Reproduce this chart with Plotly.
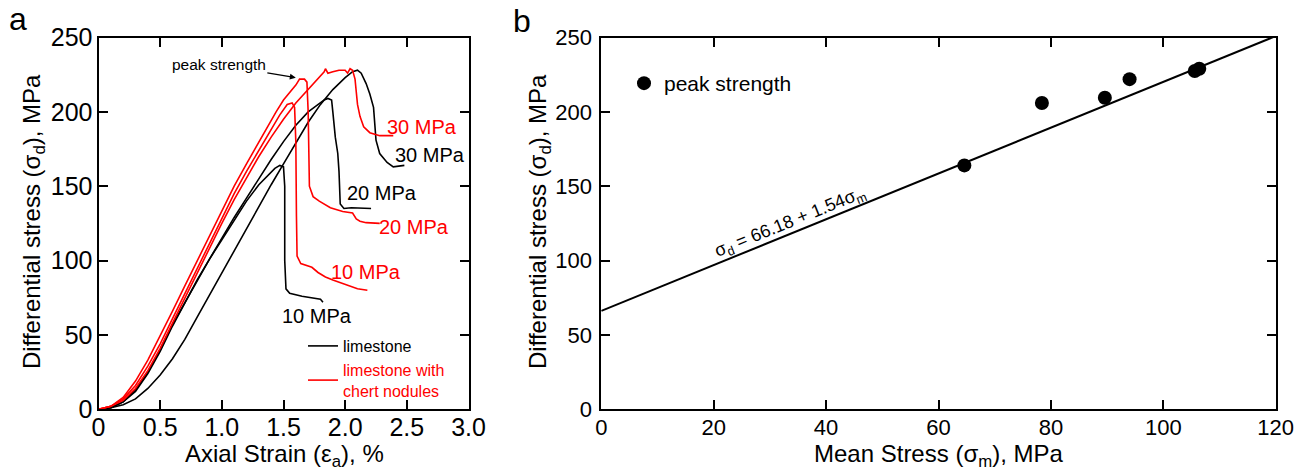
import plotly.graph_objects as go

# panel a: stress-strain curves (axial strain %, differential stress MPa)
lime10_x = [0, 0.1, 0.2, 0.3, 0.4, 0.5, 0.6, 0.7, 0.8, 0.9, 1.0, 1.1, 1.2, 1.3, 1.38, 1.43, 1.47, 1.50,
            1.51, 1.51, 1.52, 1.55, 1.65, 1.75, 1.80, 1.82]
lime10_y = [0, 1, 5, 13, 25, 40, 57, 72, 87, 101, 114, 127, 140, 151, 158, 162, 164, 163,
            150, 100, 81, 78, 76, 75, 74, 72]
lime20_x = [0, 0.1, 0.2, 0.3, 0.4, 0.5, 0.6, 0.7, 0.8, 0.9, 1.0, 1.1, 1.2, 1.3, 1.4, 1.5, 1.6, 1.7, 1.78,
            1.83, 1.86, 1.89, 1.90, 1.92, 1.94, 1.95, 1.96, 1.99, 2.05, 2.21]
lime20_y = [0, 1, 5, 12, 24, 39, 56, 72, 87, 101, 115, 129, 142, 155, 168, 180, 191, 200, 205,
            208, 209, 208, 200, 183, 172, 160, 138, 135, 135.5, 135]
lime30_x = [0, 0.1, 0.2, 0.3, 0.4, 0.5, 0.6, 0.7, 0.8, 0.9, 1.0, 1.1, 1.2, 1.3, 1.4, 1.5, 1.6, 1.7, 1.8,
            1.9, 2.0, 2.06, 2.1, 2.13, 2.17, 2.2, 2.23, 2.25, 2.28, 2.34, 2.39, 2.48]
lime30_y = [0, 1, 3, 7, 14, 23, 34, 47, 62, 77, 92, 107, 122, 137, 151, 165, 179, 193, 205,
            215, 223, 227, 228, 226, 219, 212, 203, 181, 172, 166, 163, 164]

chert10_x = [0, 0.1, 0.2, 0.3, 0.4, 0.5, 0.6, 0.7, 0.8, 0.9, 1.0, 1.1, 1.2, 1.3, 1.4, 1.47, 1.53, 1.57,
             1.59, 1.60, 1.605, 1.61, 1.64, 1.68, 1.73, 1.78, 1.84, 1.9, 2.0, 2.1, 2.18]
chert10_y = [0, 2, 7, 16, 29, 44, 61, 78, 95, 112, 129, 145, 160, 174, 188, 198, 205, 206,
             203, 180, 130, 103, 98, 97, 95.5, 92, 89, 87, 84, 81, 80]
chert20_x = [0, 0.1, 0.2, 0.3, 0.4, 0.5, 0.6, 0.7, 0.8, 0.9, 1.0, 1.1, 1.2, 1.3, 1.37, 1.44, 1.5, 1.56,
             1.6, 1.63, 1.67, 1.69, 1.70, 1.71, 1.74, 1.79, 1.88, 1.98, 2.06, 2.09, 2.12, 2.17, 2.28]
chert20_y = [0, 2, 8, 19, 33, 49, 66, 83, 100, 117, 134, 150, 165, 180, 190, 200, 208, 214,
             218, 222, 222, 220, 200, 150, 143, 140, 135.5, 133, 132, 128, 126.5, 125.5, 125]
chert30_x = [0, 0.1, 0.2, 0.3, 0.4, 0.5, 0.6, 0.7, 0.8, 0.9, 1.0, 1.1, 1.2, 1.3, 1.4, 1.5, 1.6, 1.7, 1.78,
             1.83, 1.84, 1.86, 1.9, 1.95, 2.0, 2.02, 2.04, 2.06, 2.08, 2.1, 2.12, 2.15, 2.2, 2.28, 2.39]
chert30_y = [0, 2, 6, 14, 26, 41, 58, 75, 92, 109, 125, 141, 156, 170, 183, 195, 206, 215, 222,
             227, 229, 226, 227, 228, 228, 226, 229, 228, 222, 205, 197, 190, 186, 184, 184]

# curve labels: (text, x, y, colour)
curve_labels = [
    ("30 MPa", 2.62, 190, "red"),
    ("30 MPa", 2.69, 171, "black"),
    ("20 MPa", 2.30, 145.5, "black"),
    ("20 MPa", 2.56, 122.5, "red"),
    ("10 MPa", 2.17, 92.5, "red"),
    ("10 MPa", 1.77, 62.5, "black"),
]

# panel b: peak strength vs mean stress
mean_stress = [64.6, 78.4, 89.6, 94.0, 105.6, 106.4]
peak_strength = [164, 206, 209.5, 222, 227.5, 229]
fit_intercept = 66.18
fit_slope = 1.54
fit_x = [0, 120]
fit_y = [fit_intercept + fit_slope * v for v in fit_x]

W, H = 1310, 475
FONT = "Liberation Sans, Arial, sans-serif"
RED = "#ff0000"


def px(x):
    return x / W


def py(y):
    return 1 - y / H


fig = go.Figure()

black_curves = [(lime10_x, lime10_y), (lime20_x, lime20_y), (lime30_x, lime30_y)]
red_curves = [(chert10_x, chert10_y), (chert20_x, chert20_y), (chert30_x, chert30_y)]
for i, (xs, ys) in enumerate(black_curves):
    fig.add_trace(go.Scatter(x=xs, y=ys, mode="lines", line=dict(color="black", width=1.6),
                             name="limestone", legendgroup="lime", showlegend=(i == 0),
                             xaxis="x", yaxis="y"))
for i, (xs, ys) in enumerate(red_curves):
    fig.add_trace(go.Scatter(x=xs, y=ys, mode="lines", line=dict(color=RED, width=1.6),
                             name='<span style="color:#ff0000">limestone with<br>chert nodules</span>',
                             legendgroup="chert", showlegend=(i == 0), xaxis="x", yaxis="y"))

fig.add_trace(go.Scatter(x=fit_x, y=fit_y, mode="lines", line=dict(color="black", width=2),
                         showlegend=False, xaxis="x2", yaxis="y2"))
fig.add_trace(go.Scatter(x=mean_stress, y=peak_strength, mode="markers",
                         marker=dict(color="black", size=14), name="peak strength",
                         legend="legend2", xaxis="x2", yaxis="y2"))

axis_style = dict(showline=True, linecolor="black", linewidth=2, mirror="allticks",
                  ticks="inside", ticklen=9, tickwidth=2, tickcolor="black",
                  showgrid=False, zeroline=False, automargin=False)

fig.update_layout(
    template="none",
    width=W, height=H, autosize=False,
    margin=dict(l=0, r=0, t=0, b=0, pad=0),
    paper_bgcolor="white", plot_bgcolor="white",
    font=dict(family=FONT, color="black"),
    xaxis=dict(domain=[px(98.5), px(468.5)], range=[0, 3], anchor="y",
               tickvals=[0, 0.5, 1, 1.5, 2, 2.5, 3],
               ticktext=["0", "0.5", "1.0", "1.5", "2.0", "2.5", "3.0"],
               tickfont=dict(size=25), ticklabelstandoff=-5, **axis_style),
    yaxis=dict(domain=[py(409.3), py(37.5)], range=[0, 250], anchor="x",
               tickvals=[0, 50, 100, 150, 200, 250], tickfont=dict(size=25),
               ticklabelstandoff=-1, **axis_style),
    xaxis2=dict(domain=[px(601.3), px(1275.7)], range=[0, 120], anchor="y2",
                tickvals=[0, 20, 40, 60, 80, 100, 120], tickfont=dict(size=22),
                ticklabelstandoff=-3, **axis_style),
    yaxis2=dict(domain=[py(409.3), py(37.5)], range=[0, 250], anchor="x2",
                tickvals=[0, 50, 100, 150, 200, 250], tickfont=dict(size=22),
                ticklabelstandoff=3, **axis_style),
    legend=dict(x=px(303), y=py(329), xanchor="left", yanchor="top",
                font=dict(size=16, color="black"), bgcolor="rgba(0,0,0,0)",
                tracegroupgap=0, itemwidth=30, valign="middle"),
    legend2=dict(x=px(624), y=py(63), xanchor="left", yanchor="top",
                 font=dict(size=21, color="black"), bgcolor="rgba(0,0,0,0)", itemwidth=30),
)

ann = []
# panel letters
ann.append(dict(text="a", x=px(18), y=py(19), xref="paper", yref="paper", showarrow=False,
                font=dict(size=32), xanchor="center", yanchor="middle"))
ann.append(dict(text="b", x=px(522), y=py(21), xref="paper", yref="paper", showarrow=False,
                font=dict(size=32), xanchor="center", yanchor="middle"))
# axis titles
ann.append(dict(text="Axial Strain (\u03b5<sub>a</sub>), %", x=px(284), y=py(455),
                xref="paper", yref="paper", showarrow=False, font=dict(size=24),
                xanchor="center", yanchor="middle"))
ann.append(dict(text="Differential stress (\u03c3<sub>d</sub>), MPa", x=px(33), y=py(222),
                xref="paper", yref="paper", showarrow=False, font=dict(size=24), textangle=-90,
                xanchor="center", yanchor="middle"))
ann.append(dict(text="Mean Stress (\u03c3<sub>m</sub>), MPa", x=px(939), y=py(455),
                xref="paper", yref="paper", showarrow=False, font=dict(size=24),
                xanchor="center", yanchor="middle"))
ann.append(dict(text="Differential stress (\u03c3<sub>d</sub>), MPa", x=px(539), y=py(222),
                xref="paper", yref="paper", showarrow=False, font=dict(size=24), textangle=-90,
                xanchor="center", yanchor="middle"))
# curve labels
for text, lx, ly, col in curve_labels:
    ann.append(dict(text=text, x=lx, y=ly, xref="x", yref="y", showarrow=False,
                    font=dict(size=20, color=RED if col == "red" else "black"),
                    xanchor="center", yanchor="middle"))
# peak strength arrow
ann.append(dict(text="peak strength", x=1.60, y=223, xref="x", yref="y",
                ax=-77, ay=-13, showarrow=True, arrowhead=2, arrowsize=1, arrowwidth=1.2,
                arrowcolor="black", font=dict(size=15.5)))
# regression equation along the fit line
eq_x = 33.75
ann.append(dict(text="\u03c3<sub>d</sub> = 66.18 + 1.54\u03c3<sub>m</sub>", x=eq_x,
                y=fit_intercept + fit_slope * eq_x, xref="x2", yref="y2", showarrow=False,
                textangle=-22, yshift=11, font=dict(size=18)))
fig.update_layout(annotations=ann)

# drop the default 8px page margin so the figure fills the window
fig.write_html("out.html", config={"displayModeBar": False},
               post_script="document.body.style.margin='0px';")
